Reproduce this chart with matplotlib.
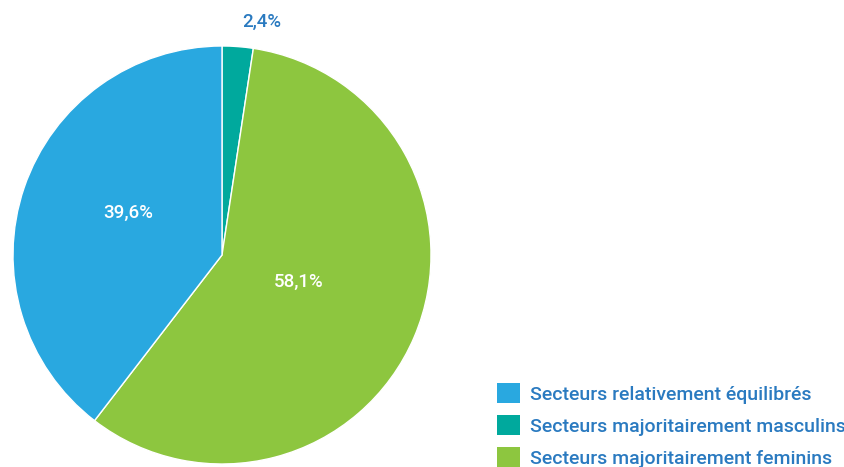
import matplotlib
matplotlib.use("Agg")
import matplotlib.pyplot as plt
from matplotlib.patches import Patch

categories = ["Secteurs majoritairement masculins", "Secteurs majoritairement feminins", "Secteurs relativement équilibrés"]
values = [2.4, 58.1, 39.6]
labels = ["2,4%", "58,1%", "39,6%"]
colors = ["#00a99d", "#8dc63f", "#29a8e0"]
legend_order = [2, 0, 1]

plt.rcParams['font.family'] = ['Roboto', 'DejaVu Sans']
W, H = 845, 467
fig = plt.figure(figsize=(W/100, H/100), dpi=100)
cx, cy, r = 222, 255, 209
ax = fig.add_axes([(cx - r)/W, (H - cy - r)/H, 2*r/W, 2*r/H])
wedges, _ = ax.pie(values, colors=colors, startangle=90, counterclock=False,
                   wedgeprops=dict(edgecolor="white", linewidth=1))
ax.set_xlim(-1, 1); ax.set_ylim(-1, 1)
ax.set_aspect('equal')
ax.axis('off')

label_pos = [(0.19, 1.115), (0.365, -0.13), (-0.45, 0.20)]
label_col = ["#2a7ac0", "white", "white"]
for (x, y), t, c in zip(label_pos, labels, label_col):
    ax.text(x, y, t, color=c, fontsize=13.5, ha="center", va="center",
            fontweight="medium", clip_on=False)

handles = [Patch(facecolor=colors[i], edgecolor="none") for i in legend_order]
leg = fig.legend(handles, [categories[i] for i in legend_order],
                 loc="upper left", bbox_to_anchor=(497/W, (H - 383)/H), frameon=False,
                 prop=dict(size=14, weight="medium"), handlelength=1.2, handleheight=1.2,
                 handletextpad=0.5, labelspacing=0.6, borderaxespad=0, borderpad=0)
for t in leg.get_texts():
    t.set_color("#2a7ac0")
fig.savefig("out.png", dpi=100)
